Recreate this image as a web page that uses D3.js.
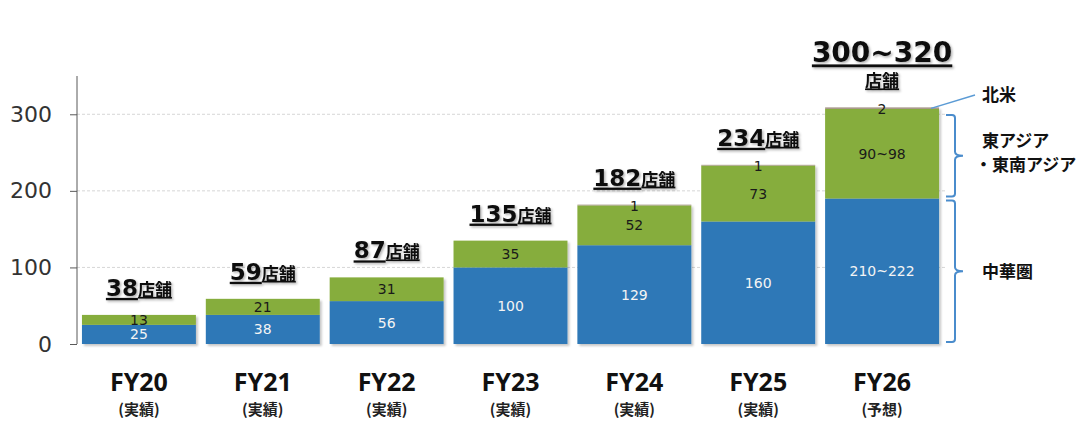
<!DOCTYPE html>
<html>
<head>
<meta charset="utf-8">
<script src="https://cdn.jsdelivr.net/npm/d3@7"></script>
<style>
  body { margin: 0; background: #fff; }
  svg { display: block; }
  .tick text { font-family: "DejaVu Sans", sans-serif; }
</style>
</head>
<body>
<div id="chart"></div>
<script>

// Data
var years = ["FY20", "FY21", "FY22", "FY23", "FY24", "FY25", "FY26"];
var statusLabels = ["(実績)", "(実績)", "(実績)", "(実績)", "(実績)", "(実績)", "(予想)"];
var china = [25, 38, 56, 100, 129, 160, 190];
var eastAsia = [13, 21, 31, 35, 52, 73, 117];
var northAmerica = [0, 0, 0, 0, 1, 1, 2];
var chinaLabels = ["25", "38", "56", "100", "129", "160", "210~222"];
var eastAsiaLabels = ["13", "21", "31", "35", "52", "73", "90~98"];
var naLabels = ["", "", "", "", "1", "1", "2"];
var totalLabels = ["38", "59", "87", "135", "182", "234", "300~320"];
var yTicks = [0, 100, 200, 300];

var colors = { china: "#2e78b7", eastAsia: "#86ad3c", na: "#a39484" };
var bracketColor = "#4a8ccc";

var width = 1080, height = 431;

var svg = d3.select("#chart").append("svg")
    .attr("width", width)
    .attr("height", height);

// soft shadows like the original slide
var defs = svg.append("defs");
var shadow = defs.append("filter").attr("id", "barShadow")
    .attr("x", "-5%").attr("y", "-5%").attr("width", "115%").attr("height", "115%");
shadow.append("feDropShadow")
    .attr("dx", 2).attr("dy", 2).attr("stdDeviation", 1.2)
    .attr("flood-color", "#000").attr("flood-opacity", 0.22);
var textShadow = defs.append("filter").attr("id", "textShadow")
    .attr("x", "-10%").attr("y", "-20%").attr("width", "130%").attr("height", "150%");
textShadow.append("feDropShadow")
    .attr("dx", 1.5).attr("dy", 1.5).attr("stdDeviation", 1)
    .attr("flood-color", "#000").attr("flood-opacity", 0.3);

// Scales
var x = d3.scaleBand()
    .domain(years)
    .range([77, 944])
    .paddingInner(0.08)
    .paddingOuter(0.04);

var y = d3.scaleLinear()
    .domain([0, 350])
    .range([344, 76]);

// Gridlines
svg.append("g")
    .selectAll("line")
    .data(yTicks.filter(function(d) { return d > 0; }))
    .enter().append("line")
    .attr("x1", 77)
    .attr("x2", 945)
    .attr("y1", function(d) { return y(d); })
    .attr("y2", function(d) { return y(d); })
    .attr("stroke", "#d6d6d6")
    .attr("stroke-width", 1)
    .attr("stroke-dasharray", "3,2");

// Y axis
var yAxis = d3.axisLeft(y)
    .tickValues(yTicks)
    .tickSize(7)
    .tickPadding(18)
    .tickFormat(d3.format("d"));

var yAxisGroup = svg.append("g")
    .attr("class", "axis y-axis")
    .attr("transform", "translate(77,0)")
    .call(yAxis);
yAxisGroup.select(".domain")
    .attr("stroke", "#595959")
    .attr("d", "M0," + y(350) + "V" + y(0));
yAxisGroup.selectAll(".tick line").attr("stroke", "#595959");
yAxisGroup.selectAll(".tick text")
    .attr("font-size", 22)
    .attr("fill", "#333");

// Stacked bars
var rows = years.map(function(yr, i) {
    return { year: yr, china: china[i], eastAsia: eastAsia[i], na: northAmerica[i] };
});
var stack = d3.stack().keys(["china", "eastAsia", "na"]);
var series = stack(rows);

var barGroups = svg.append("g").attr("filter", "url(#barShadow)");
barGroups.selectAll("g")
    .data(series)
    .enter().append("g")
    .attr("fill", function(d) { return colors[d.key]; })
    .selectAll("rect")
    .data(function(d) { return d; })
    .enter().append("rect")
    .attr("x", function(d) { return x(d.data.year); })
    .attr("width", x.bandwidth())
    .attr("y", function(d) { return y(d[1]); })
    .attr("height", function(d) { return y(d[0]) - y(d[1]); });

// Segment labels
var labelG = svg.append("g")
    .attr("font-family", "DejaVu Sans, sans-serif")
    .attr("font-size", 14)
    .attr("text-anchor", "middle");

labelG.selectAll(".china-label")
    .data(series[0])
    .enter().append("text")
    .attr("class", "china-label")
    .attr("x", function(d) { return x(d.data.year) + x.bandwidth() / 2; })
    .attr("y", function(d) { return (y(d[0]) + y(d[1])) / 2; })
    .attr("dy", "0.36em")
    .attr("fill", "#f4f4f4")
    .text(function(d, i) { return chinaLabels[i]; });

labelG.selectAll(".ea-label")
    .data(series[1])
    .enter().append("text")
    .attr("class", "ea-label")
    .attr("x", function(d) { return x(d.data.year) + x.bandwidth() / 2; })
    .attr("y", function(d) { return (y(d[0]) + y(d[1])) / 2; })
    .attr("dy", "0.36em")
    .attr("fill", "#1a1a1a")
    .text(function(d, i) { return eastAsiaLabels[i]; });

labelG.selectAll(".na-label")
    .data(series[2])
    .enter().append("text")
    .attr("class", "na-label")
    .attr("x", function(d) { return x(d.data.year) + x.bandwidth() / 2; })
    .attr("y", function(d) { return y(d[1]) + 1.5; })
    .attr("dy", "0.36em")
    .attr("fill", "#1a1a1a")
    .text(function(d, i) { return naLabels[i]; });

// Total labels (underlined, with shadow)
var totalG = svg.append("g")
    .attr("filter", "url(#textShadow)")
    .attr("text-anchor", "middle")
    .attr("font-weight", "bold")
    .attr("fill", "#111");

years.forEach(function(yr, i) {
    var cx = x(yr) + x.bandwidth() / 2;
    var top = y(china[i] + eastAsia[i] + northAmerica[i]);
    if (i === years.length - 1) {
        totalG.append("text")
            .attr("x", cx)
            .attr("y", top - 45)
            .attr("font-family", "DejaVu Sans, sans-serif")
            .attr("font-size", 28)
            .style("text-decoration", "underline")
            .text(totalLabels[i]);
        totalG.append("text")
            .attr("x", cx)
            .attr("y", top - 20)
            .attr("font-family", "Noto Sans CJK JP, sans-serif")
            .attr("font-size", 17)
            .style("text-decoration", "underline")
            .text("店舗");
    } else {
        var t = totalG.append("text")
            .attr("x", cx)
            .attr("y", top - 19)
            .style("text-decoration", "underline");
        t.append("tspan")
            .attr("font-family", "DejaVu Sans, sans-serif")
            .attr("font-size", 23)
            .text(totalLabels[i]);
        t.append("tspan")
            .attr("font-family", "Noto Sans CJK JP, sans-serif")
            .attr("font-size", 17)
            .text("店舗");
    }
});

// X category labels
var xLab = svg.append("g").attr("text-anchor", "middle").attr("fill", "#111");
xLab.selectAll(".year")
    .data(years)
    .enter().append("text")
    .attr("class", "year")
    .attr("x", function(d) { return x(d) + x.bandwidth() / 2; })
    .attr("y", 391)
    .attr("font-family", "Noto Sans, sans-serif")
    .attr("font-weight", "bold")
    .attr("font-size", 25)
    .text(function(d) { return d; });
xLab.selectAll(".status")
    .data(years)
    .enter().append("text")
    .attr("class", "status")
    .attr("x", function(d) { return x(d) + x.bandwidth() / 2; })
    .attr("y", 415)
    .attr("font-family", "Noto Sans CJK JP, sans-serif")
    .attr("font-weight", "bold")
    .attr("font-size", 15)
    .attr("fill", "#222")
    .text(function(d, i) { return statusLabels[i]; });

// Legend brackets on the right
function brace(top, bottom, xv) {
    var mid = (top + bottom) / 2;
    return "M" + (xv - 9) + "," + top +
        "H" + (xv - 3) + "Q" + xv + "," + top + " " + xv + "," + (top + 3) +
        "V" + (mid - 4) + "Q" + xv + "," + mid + " " + (xv + 8) + "," + mid +
        "Q" + xv + "," + mid + " " + xv + "," + (mid + 4) +
        "V" + (bottom - 3) + "Q" + xv + "," + bottom + " " + (xv - 3) + "," + bottom +
        "H" + (xv - 9);
}

var legend = svg.append("g");
var lastYear = years[years.length - 1];
var last = years.length - 1;

legend.append("path")
    .attr("d", brace(y(china[last]) + 2, y(0) - 2, 955))
    .attr("fill", "none").attr("stroke", bracketColor).attr("stroke-width", 2);
legend.append("path")
    .attr("d", brace(y(china[last] + eastAsia[last]) + 6, y(china[last]) - 2, 955))
    .attr("fill", "none").attr("stroke", bracketColor).attr("stroke-width", 2);

// leader line for North America
legend.append("line")
    .attr("x1", x(lastYear) + x.bandwidth() - 8)
    .attr("y1", y(china[last] + eastAsia[last] + northAmerica[last]) + 1)
    .attr("x2", 975)
    .attr("y2", 95)
    .attr("stroke", "#5b9bd5")
    .attr("stroke-width", 1.5);

var legText = legend.append("g")
    .attr("font-family", "Noto Sans CJK JP, sans-serif")
    .attr("font-weight", "bold")
    .attr("font-size", 17)
    .attr("fill", "#111");
legText.append("text").attr("x", 982).attr("y", 95).attr("dy", "0.36em").text("北米");
legText.append("text").attr("x", 982).attr("y", 141).attr("dy", "0.36em").text("東アジア");
legText.append("text").attr("x", 975).attr("y", 165).attr("dy", "0.36em").text("・東南アジア");
legText.append("text").attr("x", 982).attr("y", 272).attr("dy", "0.36em").text("中華圏");

</script>
</body>
</html>
